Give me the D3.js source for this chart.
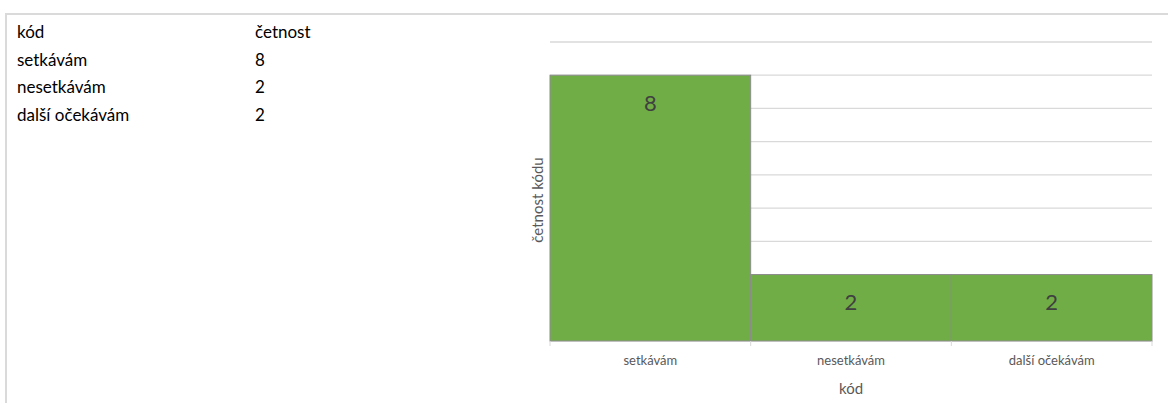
<!DOCTYPE html>
<html><head><meta charset="utf-8">
<script src="https://cdn.jsdelivr.net/npm/d3@7"></script>
<style>body{margin:0;background:#fff}svg{display:block}</style>
</head><body>
<svg id="c" width="1168" height="403"></svg>
<script>
const categories = ["setkávám", "nesetkávám", "další očekávám"];
const values = [8, 2, 2];
const tableHeader = ["kód", "četnost"];
const yTicks = [0,1,2,3,4,5,6,7,8,9];

const svg = d3.select("#c");
const font = "Lato, 'Open Sans', sans-serif";

// outer frame
svg.append("path").attr("d","M6,403 V14 H1168").attr("fill","none").attr("stroke","#dadada").attr("stroke-width",2);

// table
const rows = [tableHeader].concat(categories.map((c,i)=>[c, String(values[i])]));
const rowY = d3.scalePoint().domain(d3.range(rows.length)).range([32,115]);
rows.forEach((r,i)=>{
  svg.append("text").attr("x",17).attr("y",rowY(i)).attr("dy","0.35em").attr("font-family",font).attr("font-size",17).attr("fill","#000").text(r[0]);
  svg.append("text").attr("x",255).attr("y",rowY(i)).attr("dy","0.35em").attr("font-family",font).attr("font-size",17).attr("fill","#000").text(r[1]);
});

// chart
const x = d3.scaleBand().domain(categories).range([550,1152]).padding(0);
const y = d3.scaleLinear().domain([0,9]).range([341,42]);

svg.append("g").selectAll("line").data(yTicks.filter(d=>d>0)).join("line")
  .attr("x1",550).attr("x2",1152).attr("y1",d=>y(d)).attr("y2",d=>y(d))
  .attr("stroke","#d9d9d9").attr("stroke-width",1.3);

svg.append("g").selectAll("rect").data(values).join("rect")
  .attr("x",(d,i)=>x(categories[i])).attr("width",x.bandwidth())
  .attr("y",d=>y(d)).attr("height",d=>y(0)-y(d))
  .attr("fill","#70ad47").attr("stroke","#8c8c8c").attr("stroke-width",1);

svg.append("g").selectAll("text").data(values).join("text")
  .attr("x",(d,i)=>x(categories[i])+x.bandwidth()/2).attr("y",d=>y(d)+28)
  .attr("dy","0.35em")
  .attr("text-anchor","middle").attr("font-family",font).attr("font-size",22).attr("fill","#404040").text(d=>d);

// x axis
const xa = svg.append("g").attr("transform","translate(0,341)")
  .call(d3.axisBottom(x).tickSize(0).tickPadding(15));
xa.select(".domain").attr("stroke","#bfbfbf");
xa.selectAll("text").attr("font-family",font).attr("font-size",13).attr("fill","#595959");
// boundary ticks
const bounds = categories.map(c=>x(c)).concat([x.range()[1]]);
svg.append("g").selectAll("line").data(bounds).join("line")
  .attr("x1",d=>d).attr("x2",d=>d).attr("y1",341).attr("y2",346).attr("stroke","#d9d9d9");

svg.append("text").attr("x",851).attr("y",389).attr("dy","0.35em").attr("text-anchor","middle")
  .attr("font-family",font).attr("font-size",15).attr("fill","#595959").text("kód");
svg.append("text").attr("transform","translate(538,200) rotate(-90)").attr("dy","0.35em").attr("text-anchor","middle")
  .attr("font-family",font).attr("font-size",15).attr("fill","#595959").text("četnost kódu");
</script>
</body></html>
